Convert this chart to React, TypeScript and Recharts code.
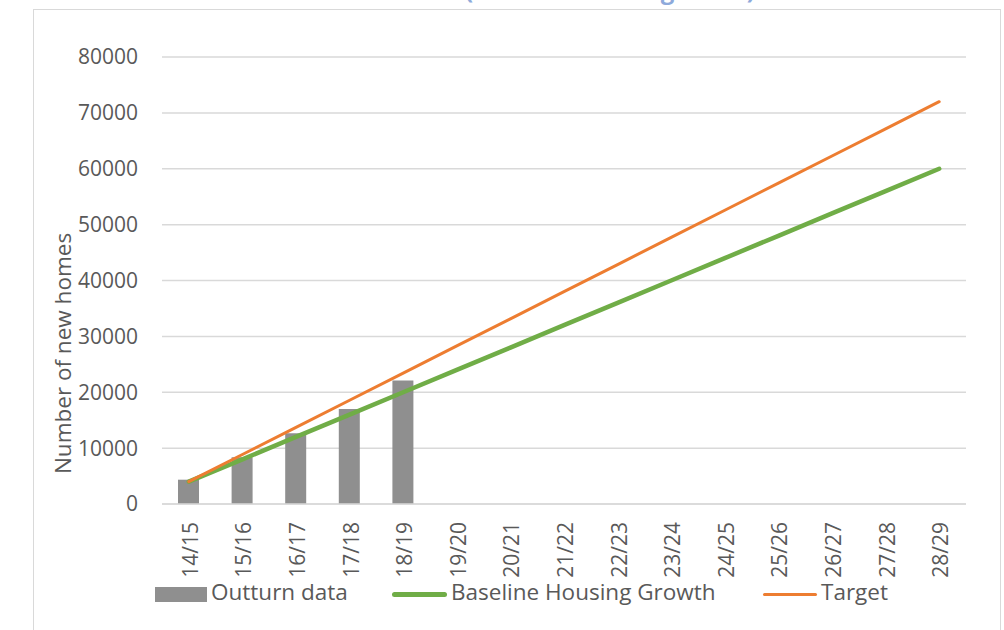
import React from "react";
import { ComposedChart, Bar, Line, XAxis, YAxis, CartesianGrid } from "recharts";

const categories = ["14/15","15/16","16/17","17/18","18/19","19/20","20/21","21/22","22/23","23/24","24/25","25/26","26/27","27/28","28/29"];
const outturn: (number | null)[] = [4350, 8350, 12650, 17000, 22100, null, null, null, null, null, null, null, null, null, null];
const baseline = [4000, 8000, 12000, 16000, 20000, 24000, 28000, 32000, 36000, 40000, 44000, 48000, 52000, 56000, 60000];
const target = [4000, 8857, 13714, 18571, 23429, 28286, 33143, 38000, 42857, 47714, 52571, 57429, 62286, 67143, 72000];
const yTicks = [0, 10000, 20000, 30000, 40000, 50000, 60000, 70000, 80000];
const seriesNames = ["Outturn data", "Baseline Housing Growth", "Target"];
const titleText = "(cumulative net growth)";
const yLabel = "Number of new homes";

const data = categories.map((c, i) => ({ cat: c, outturn: outturn[i], baseline: baseline[i], target: target[i] }));

const FONT = "'Open Sans', sans-serif";
const TXT = "#595959";

const XTick = (props: any) => {
  const { x, y, payload } = props;
  return (
    <text transform={`translate(${x + 9},${y + 10}) rotate(-90)`} textAnchor="end" fontFamily={FONT} fontSize={21} fill={TXT}>
      {payload.value}
    </text>
  );
};

const YLabel = (props: any) => {
  const vb = props.viewBox || { x: 0, y: 57, width: 162, height: 447 };
  return (
    <text transform={`translate(${vb.x + 71},${vb.y + vb.height / 2 + 73}) rotate(-90)`} textAnchor="middle" fontFamily={FONT} fontSize={22.5} fill={TXT}>
      {yLabel}
    </text>
  );
};

export default function App() {
  return (
    <div style={{ position: "absolute", left: 0, top: 0, width: 1004, height: 630, overflow: "hidden", background: "#fff" }}>
      <div style={{ position: "absolute", left: 33, top: 9, width: 968, height: 640, border: "1.5px solid #d9d9d9", boxSizing: "border-box" }} />
      <div style={{ position: "absolute", left: 310, top: -22, width: 600, textAlign: "center", fontFamily: FONT, fontWeight: 700, fontSize: 24, lineHeight: "24px", color: "#8eaadb", whiteSpace: "nowrap" }}>
        {titleText}
      </div>
      <div style={{ position: "absolute", left: 0, top: 0 }}>
        <ComposedChart width={1004} height={630} data={data} margin={{ top: 57, right: 38, bottom: 66, left: 0 }}>
          <CartesianGrid vertical={false} stroke="#d9d9d9" strokeWidth={1.5} />
          <XAxis dataKey="cat" interval={0} tick={<XTick />} tickLine={false} axisLine={{ stroke: "#d9d9d9", strokeWidth: 1.5 }} height={60} />
          <YAxis width={162} domain={[0, 80000]} ticks={yTicks} tickLine={false} axisLine={false} tickSize={0} tickMargin={24}
            tick={{ fontFamily: FONT, fontSize: 21, fill: TXT }} label={<YLabel />} />
          <Bar dataKey="outturn" fill="#8f8f8f" barSize={21} isAnimationActive={false} />
          <Line dataKey="baseline" stroke="#70ad47" strokeWidth={4.5} dot={false} strokeLinecap="round" isAnimationActive={false} />
          <Line dataKey="target" stroke="#ed7d31" strokeWidth={3} dot={false} strokeLinecap="round" isAnimationActive={false} />
        </ComposedChart>
      </div>
      <div style={{ position: "absolute", top: 580, left: 0, width: 1004, height: 30, fontFamily: FONT, fontSize: 22.5, color: TXT }}>
        <div style={{ position: "absolute", left: 155, top: 7, width: 52, height: 15, background: "#8f8f8f" }} />
        <div style={{ position: "absolute", left: 211, top: -3, lineHeight: "30px", whiteSpace: "nowrap" }}>{seriesNames[0]}</div>
        <div style={{ position: "absolute", left: 392, top: 12, width: 55, height: 4.5, background: "#70ad47", borderRadius: 3 }} />
        <div style={{ position: "absolute", left: 451, top: -3, lineHeight: "30px", whiteSpace: "nowrap" }}>{seriesNames[1]}</div>
        <div style={{ position: "absolute", left: 763, top: 12.5, width: 54, height: 3.5, background: "#ed7d31", borderRadius: 2 }} />
        <div style={{ position: "absolute", left: 821, top: -3, lineHeight: "30px", whiteSpace: "nowrap" }}>{seriesNames[2]}</div>
      </div>
    </div>
  );
}
